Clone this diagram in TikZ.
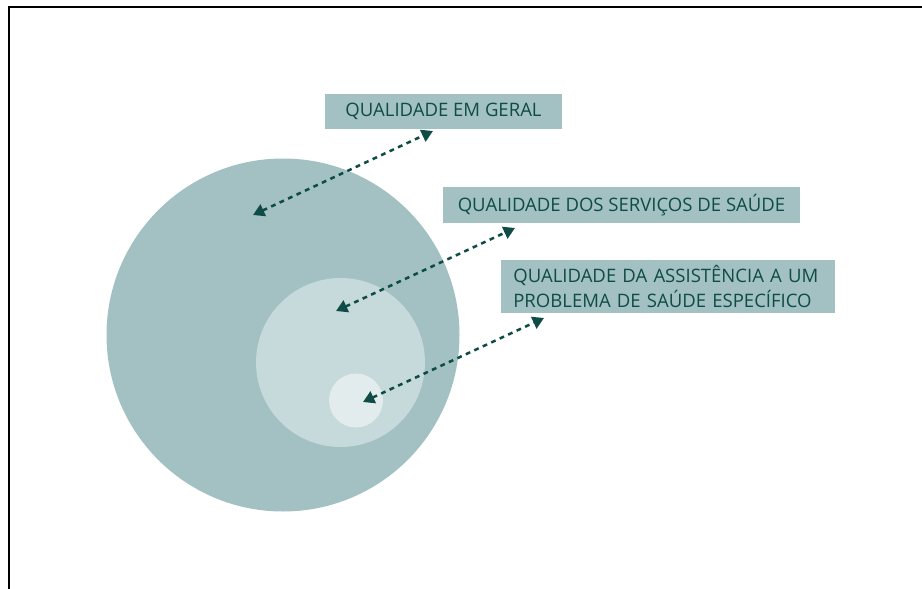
\documentclass[tikz,border=0pt]{standalone}
\usepackage{fontspec}
\setmainfont{Open Sans}
\usetikzlibrary{arrows.meta,calc}
\definecolor{tealtexto}{HTML}{0F4C47}
\definecolor{tealescuro}{HTML}{A3C1C2}
\definecolor{tealmedio}{HTML}{C6D9DB}
\definecolor{tealclaro}{HTML}{E3ECEC}

\begin{document}
\begin{tikzpicture}[x=0.75pt,y=-0.75pt]
	\tikzstyle{caixa} = [rectangle, fill=tealescuro, text=tealtexto, inner sep=0pt, text centered, font=\fontsize{13.9}{18.75}\selectfont]
	\tikzstyle{circulo} = [circle, inner sep=0pt, draw=none]
	\tikzstyle{seta} = [draw=tealtexto, line width=1.9pt, dash pattern=on 3.6pt off 3.4pt, {Triangle[length=8.5pt,width=9.5pt]}-{Triangle[length=8.5pt,width=9.5pt]}]
\useasboundingbox (0,0) rectangle (922,589);
\clip (0,0) rectangle (922,589);
\draw [line width=1.5pt] (9,7) rectangle (960,640);
\node [circulo, fill=tealescuro, minimum size=264.75pt] at (283,335) (cgeral) {};
\node [circulo, fill=tealmedio, minimum size=126.75pt] at (340.5,362.5) (cservicos) {};
\node [circulo, fill=tealclaro, minimum size=40.5pt] at (356,400.5) (cproblema) {};
\node [caixa, minimum width=177.75pt, minimum height=26.25pt] at (443.5,111.5) (geral) {QUALIDADE EM GERAL};
\node [caixa, minimum width=267.75pt, minimum height=27pt] at (621.5,205) (servicos) {QUALIDADE DOS SERVIÇOS DE SAÚDE};
\node [caixa, text width=232pt, inner xsep=9.25pt, minimum height=39.75pt, align=left] at (668,286.5) (problema) {QUALIDADE DA ASSISTÊNCIA A UM\\PROBLEMA DE SAÚDE ESPECÍFICO};
\coordinate (g1) at (253,215);
\coordinate (g2) at (433,131);
\coordinate (s1) at (336,311);
\coordinate (s2) at (515,228);
\coordinate (p1) at (363,402);
\coordinate (p2) at (544,318);
\path [seta] (g1) -- (g2);
\path [seta] (s1) -- (s2);
\path [seta] (p1) -- (p2);
\end{tikzpicture}
\end{document}
